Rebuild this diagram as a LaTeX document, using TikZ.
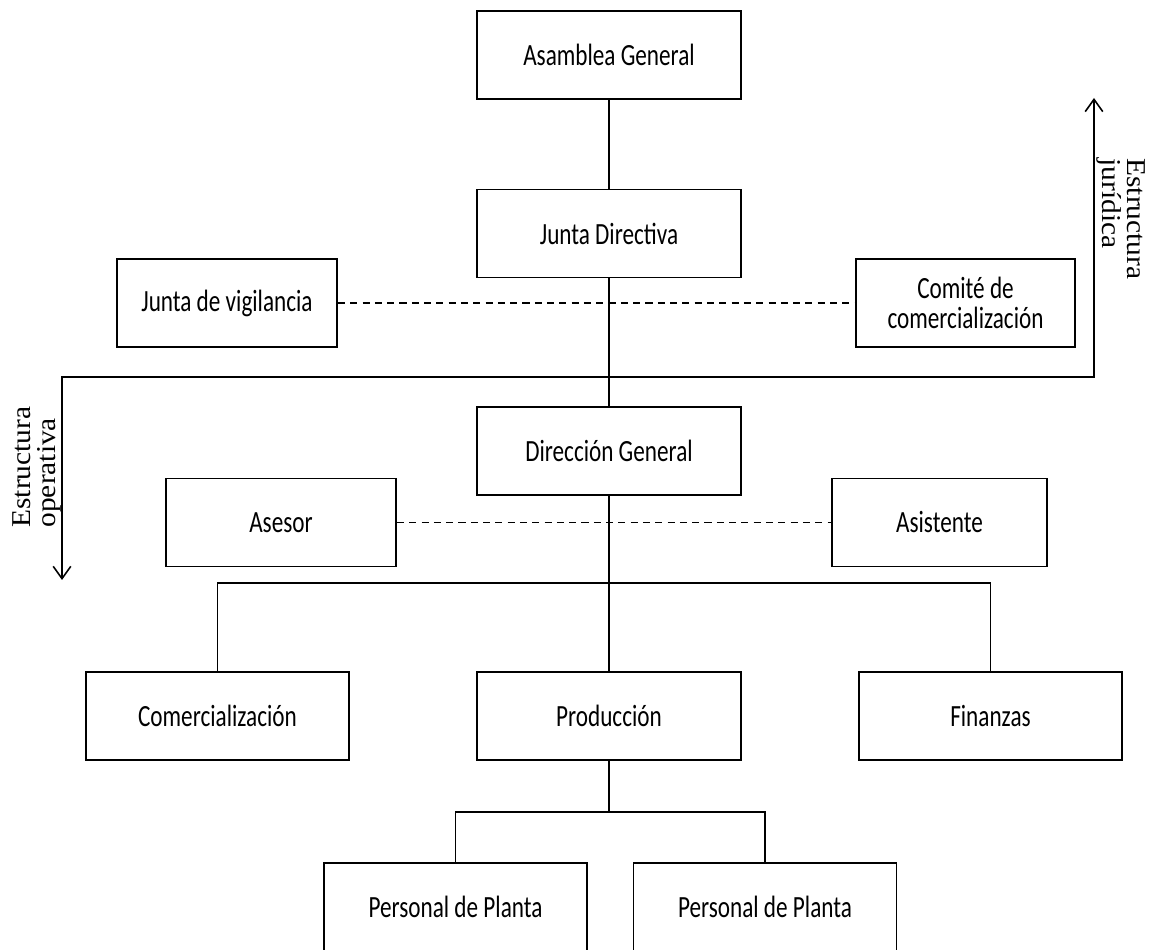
\documentclass[tikz,border=0pt]{standalone}
\usepackage{fontspec}
\setmainfont{Liberation Serif}
\newfontfamily\boxfont{Carlito}
\usepackage{graphicx}
\usepackage{tikz}
\usetikzlibrary{
  arrows.meta,
  positioning
}
\newcommand{\tall}[1]{\scalebox{1}[1.33]{#1}}
\newcommand{\wide}[1]{\scalebox{1.08}[1]{#1}}

\begin{document}
\begin{tikzpicture}[
  unit/.style={rectangle,draw,line width=1.1pt,minimum width=52.8mm,minimum height=17.6mm,align=center,inner sep=2pt,font=\boxfont\fontsize{13.2}{17}\selectfont},
  link/.style={line width=0.9pt},
  dotline/.style={line width=0.9pt,dash pattern=on 4pt off 3pt},
  arrow/.style={line width=0.9pt,{Straight Barb[length=7pt,width=10pt]}-{Straight Barb[length=7pt,width=10pt]}},
  sidelabel/.style={align=left,inner sep=0pt,font=\fontsize{15.5}{14.5}\selectfont},
]
\useasboundingbox (0,0) rectangle (23.02,19.0);

\node[unit] (asamblea) at (12.18,17.9) {\tall{Asamblea General}};
\node[unit] (junta) at (12.18,14.33) {\tall{Junta Directiva}};
\node[unit,minimum width=44mm] (vigilancia) at (4.54,12.94) {\tall{Junta de vigilancia}};
\node[unit,minimum width=43.8mm] (comite) at (19.31,12.94) {\tall{Comité de}\\\tall{comercialización}};
\node[unit] (direccion) at (12.18,9.98) {\tall{Dirección General}};
\node[unit,minimum width=46mm] (asesor) at (5.62,8.55) {\tall{Asesor}};
\node[unit,minimum width=43mm] (asistente) at (18.79,8.55) {\tall{Asistente}};
\node[unit,minimum width=52.6mm] (comercializacion) at (4.35,4.68) {\tall{Comercialización}};
\node[unit] (produccion) at (12.18,4.68) {\tall{Producción}};
\node[unit,minimum width=52.6mm] (finanzas) at (19.81,4.68) {\tall{Finanzas}};
\node[unit,minimum width=52.6mm] (personalA) at (9.11,0.86) {\tall{Personal de Planta}};
\node[unit,minimum width=52.6mm] (personalB) at (15.30,0.86) {\tall{Personal de Planta}};

\coordinate (branch) at (12.18,7.34);
\coordinate (subbranch) at (12.18,2.76);
\coordinate (opetip) at (1.24,7.40);
\coordinate (opecorner) at (1.24,11.46);
\coordinate (jurcorner) at (21.88,11.46);
\coordinate (jurtip) at (21.88,17.04);

\draw[link] (asamblea) -- (junta);
\draw[link] (junta) -- (direccion);
\draw[link] (direccion) -- (produccion);
\draw[dotline] (vigilancia) -- (comite);
\draw[dotline] (asesor) -- (asistente);
\draw[link] (comercializacion.north) |- (branch) -| (finanzas.north);
\draw[link] (produccion) -- (subbranch);
\draw[link] (personalA.north) |- (subbranch) -| (personalB.north);

% division between the two structures
\draw[arrow] (opetip) -- (opecorner) -- (jurcorner) -- (jurtip);
\node[sidelabel,rotate=90] (operativa) at (0.74,9.66) {\wide{Estructura}\\\wide{operativa}};
\node[sidelabel,rotate=-90] (juridica) at (22.42,14.62) {\wide{Estructura}\\\wide{jurídica}};
\end{tikzpicture}
\end{document}
